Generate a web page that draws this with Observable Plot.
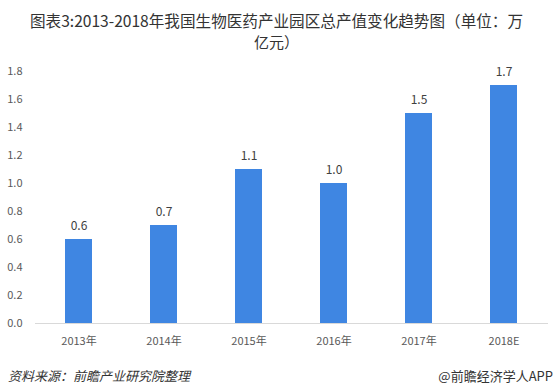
<!DOCTYPE html>
<html>
<head>
<meta charset="utf-8">
<script src="https://cdn.jsdelivr.net/npm/d3@7"></script>
<script src="https://cdn.jsdelivr.net/npm/@observablehq/plot@0.6"></script>
<style>
  html, body { margin: 0; padding: 0; background: #fff; }
  #wrap { width: 553px; height: 391px; position: relative; overflow: hidden; font-family: "Noto Sans CJK SC", "Microsoft YaHei", sans-serif; }
  .title { position: absolute; left: 0; width: 553px; text-align: center; font-size: 15.6px; line-height: 17px; color: #333; white-space: nowrap; }
  #t1 { top: 12px; }
  #t2 { top: 33px; font-size: 15px; }
  #chart { position: absolute; top: 50px; left: 0; }
  #source { position: absolute; top: 366px; left: 8px; font-size: 13px; font-style: italic; color: #333; }
  #brand { position: absolute; top: 366px; right: 0px; font-size: 13px; color: #333; }
</style>
</head>
<body>
<div id="wrap">
  <div class="title" id="t1">图表3:2013-2018年我国生物医药产业园区总产值变化趋势图（单位：万</div>
  <div class="title" id="t2">亿元）</div>
  <div id="chart"></div>
  <div id="source">资料来源：前瞻产业研究院整理</div>
  <div id="brand">@前瞻经济学人APP</div>
</div>
<script>
const years = ["2013年", "2014年", "2015年", "2016年", "2017年", "2018E"];
const values = [0.6, 0.7, 1.1, 1.0, 1.5, 1.7];
const yTicks = [0, 0.2, 0.4, 0.6, 0.8, 1.0, 1.2, 1.4, 1.6, 1.8];

const data = years.map((y, i) => ({year: y, value: values[i]}));

const chart = Plot.plot({
  width: 553,
  height: 300,
  marginTop: 21,
  marginBottom: 27,
  marginLeft: 35,
  marginRight: 5,
  style: {fontFamily: "'Noto Sans CJK SC', sans-serif", fontSize: "11px", color: "#595959", background: "transparent"},
  x: {domain: years, paddingInner: 0.68, paddingOuter: 0.34, label: null, tickSize: 0, tickPadding: 14},
  y: {domain: [0, 1.8], ticks: yTicks, tickFormat: d => d.toFixed(1), label: null, tickSize: 0, tickPadding: 13},
  marks: [
    Plot.barY(data, {x: "year", y: "value", fill: "#3f86e2"}),
    Plot.ruleY([0], {stroke: "#d9d9d9", strokeWidth: 1}),
    Plot.text(data, {x: "year", y: "value", text: d => d.value.toFixed(1), dy: -13, fill: "#404040", fontSize: 12})
  ]
});
document.getElementById("chart").appendChild(chart);
</script>
</body>
</html>
